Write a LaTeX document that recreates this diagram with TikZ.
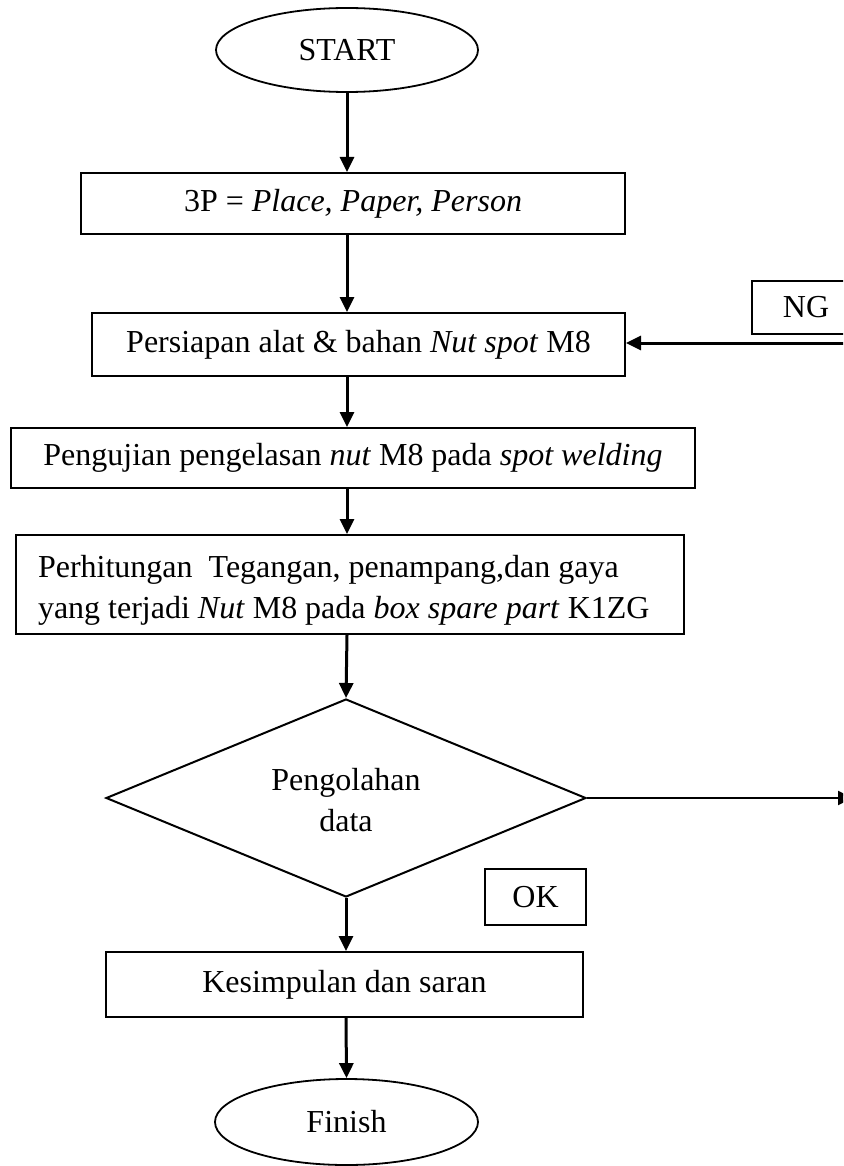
\documentclass[tikz,border=0pt]{standalone}
\usepackage{fontspec}
\setmainfont{Liberation Serif}
\usetikzlibrary{shapes.geometric,arrows.meta}
\begin{document}
\begin{tikzpicture}[x=1pt,y=-1pt,
  every node/.style={font=\fontsize{32pt}{41pt}\selectfont},
  box/.style={draw,rectangle,line width=2pt,inner sep=0pt,align=center},
  term/.style={draw,ellipse,line width=1.8pt,inner sep=0pt},
  dec/.style={draw,diamond,line width=2pt,inner sep=0pt,align=center,shape aspect=2.42},
  arr/.style={line width=3pt,-{Triangle[length=15pt,width=14pt]}},
  line/.style={line width=2.2pt,-{Triangle[length=15pt,width=14pt]}}
]
\useasboundingbox (0,0) rectangle (843,1166);
\clip (0,0) rectangle (843,1166);
\fill[white] (0,0) rectangle (843,1166);

\node[term,minimum width=262pt,minimum height=84pt] (start) at (347,50) {START};
\node[box,minimum width=544pt,minimum height=61pt] (p3) at (353,203.5) {3P = \textit{Place, Paper, Person}};
\node[box,minimum width=533pt,minimum height=63pt] (persiapan) at (358.5,344.5) {Persiapan alat \& bahan \textit{Nut spot} M8};
\node[box,minimum width=108pt,minimum height=53pt] (ng) at (806,307.5) {NG};
\node[box,minimum width=684pt,minimum height=60pt] (pengujian) at (353,458) {Pengujian pengelasan \textit{nut} M8 pada \textit{spot welding}};
\node[box,align=flush left,text width=624pt,inner xsep=22pt,minimum height=99pt] (hitung) at (350,584.5)
  {\mbox{\rule{0pt}{34pt}Perhitungan\ \ Tegangan, penampang,dan gaya}\\\mbox{yang terjadi \textit{Nut} M8 pada \textit{box spare part} K1ZG}};
\node[dec,minimum width=480pt,minimum height=198pt] (olah) at (346,798) {\rule{0pt}{26pt}Pengolahan\\data};
\node[box,minimum width=101pt,minimum height=56pt] (ok) at (535.5,897) {OK};
\node[box,minimum width=477pt,minimum height=65pt] (simpul) at (344.5,984.5) {Kesimpulan dan saran};
\node[term,minimum width=263pt,minimum height=86pt] (finish) at (346.5,1122) {Finish};

\coordinate (ngin) at (862,343);
\coordinate (olahout) at (853,798);

\draw[arr] (start.south) -- (start.south |- p3.north);
\draw[arr] (start |- p3.south) -- (start |- persiapan.north);
\draw[arr] (start |- persiapan.south) -- (start |- pengujian.north);
\draw[arr] (start |- pengujian.south) -- (start |- hitung.north);
\draw[arr] (start |- hitung.south) -- (olah.north);
\draw[arr] (olah.south) -- (olah.south |- simpul.north);
\draw[arr] (olah |- simpul.south) -- (finish.north);
\draw[line] (olah.east) -- (olahout);
\draw[arr] (ngin) -- (ngin -| persiapan.east);
\end{tikzpicture}
\end{document}
